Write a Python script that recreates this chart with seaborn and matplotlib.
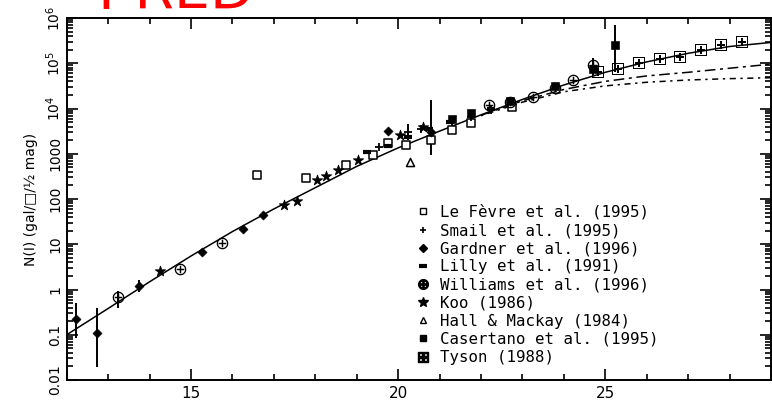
import numpy as np
import pandas as pd
import matplotlib
matplotlib.use("Agg")
import matplotlib.pyplot as plt
import seaborn as sns
from matplotlib.ticker import FixedLocator, FixedFormatter, MultipleLocator, LogLocator, NullFormatter
from matplotlib.lines import Line2D

# ---------------- data ----------------
model_mag = [12, 13, 14, 15, 16, 17, 18, 19, 20, 21, 22, 23, 24, 25, 26, 27, 28, 29]
model_solid_log = [-1.0, -0.42, 0.17, 0.74, 1.28, 1.78, 2.25, 2.72, 3.13, 3.5, 3.86, 4.2, 4.52, 4.8, 5.03, 5.22, 5.37, 5.46]
model_dash_mag = [22, 23, 24, 25, 26, 27, 28, 29]
model_dash_log = [3.85, 4.17, 4.42, 4.6, 4.72, 4.8, 4.89, 4.98]
model_dot_log = [3.84, 4.14, 4.37, 4.5, 4.58, 4.63, 4.66, 4.68]

lefevre_mag = [16.59, 17.77, 18.75, 19.4, 19.75, 20.2, 20.8, 21.3, 21.77, 22.75]
lefevre_n = [340, 290, 560, 950, 1730, 1600, 2000, 3300, 4800, 11000]
smail_mag = [19.55, 20.23, 20.55, 21.3, 21.77, 22.25]
smail_n = [1400, 3000, 3500, 5000, 6500, 9300]
gardner_mag = [12.22, 12.74, 13.74, 15.26, 16.25, 16.74, 19.75, 20.8]
gardner_n = [0.22, 0.11, 1.19, 6.8, 21.7, 45, 3200, 3000]
lilly_mag = [19.24, 19.75, 20.25, 20.75, 21.25, 22.25]
lilly_n = [1120, 1500, 2400, 3500, 5000, 10000]
williams_mag = [13.25, 14.73, 15.74, 22.2, 22.7, 23.25, 23.78, 24.22, 24.7]
williams_n = [0.67, 2.9, 10.7, 12000, 14000, 18000, 28000, 42000, 91000]
koo_mag = [14.25, 17.24, 17.55, 18.03, 18.27, 18.55, 19.03, 20.04, 20.6]
koo_n = [2.6, 74, 92, 263, 320, 440, 720, 2600, 4000]
hall_mag = [20.28]
hall_n = [660]
casertano_mag = [21.29, 21.77, 22.7, 23.78, 24.7, 25.23]
casertano_n = [6000, 7800, 15000, 31000, 75000, 250000]
tyson_mag = [24.82, 25.31, 25.81, 26.31, 26.8, 27.32, 27.8, 28.31]
tyson_n = [65000, 76000, 100000, 123000, 138000, 193000, 250000, 300000]

err_mag = [12.22, 12.74, 13.25, 13.74, 20.8, 20.23, 24.7, 25.23]
err_val = [0.22, 0.11, 0.67, 1.19, 3000, 3000, 91000, 250000]
err_lo = [0.085, 0.019, 0.39, 0.9, 940, 2000, 54000, 65000]
err_hi = [0.5, 0.39, 0.93, 1.6, 15500, 4500, 130000, 700000]

survey_labels = ["Le Fèvre et al. (1995)", "Smail et al. (1995)", "Gardner et al. (1996)",
                 "Lilly et al. (1991)", "Williams et al. (1996)", "Koo (1986)",
                 "Hall & Mackay (1984)", "Casertano et al. (1995)", "Tyson (1988)"]

y_tick_vals = [0.01, 0.1, 1, 10, 100, 1000, 1e4, 1e5, 1e6]
y_tick_labels = ["0.01", "0.1", "1", "10", "100", "1000", "$10^4$", "$10^5$", "$10^6$"]
x_tick_vals = [15, 20, 25]

# ---------------- style ----------------
sns.set_theme(style="ticks")
plt.rcParams["font.family"] = ["DejaVu Sans"]
plt.rcParams["axes.edgecolor"] = "black"
plt.rcParams["xtick.color"] = "black"
plt.rcParams["ytick.color"] = "black"
plt.rcParams["text.color"] = "black"
plt.rcParams["axes.labelcolor"] = "black"

fig = plt.figure(figsize=(7.72, 4.03), dpi=100)
ax = fig.add_axes([66.7 / 772, 1 - 380 / 403, (771 - 66.7) / 772, 362 / 403])

# model curves
lines_df = pd.concat([
    pd.DataFrame({"mag": model_mag, "N": np.power(10.0, model_solid_log), "model": "solid"}),
    pd.DataFrame({"mag": model_dash_mag, "N": np.power(10.0, model_dash_log), "model": "dash"}),
    pd.DataFrame({"mag": model_dash_mag, "N": np.power(10.0, model_dot_log), "model": "dot"}),
])
sns.lineplot(data=lines_df, x="mag", y="N", style="model",
             dashes={"solid": "", "dash": (7, 3, 2, 3), "dot": (1.5, 3, 4, 3)},
             color="black", linewidth=1.1, legend=False, ax=ax, sort=False, estimator=None)

# error bars
err_val_a = np.array(err_val)
ax.errorbar(err_mag, err_val, yerr=[err_val_a - np.array(err_lo), np.array(err_hi) - err_val_a],
            fmt="none", ecolor="black", elinewidth=1.4, capsize=0)

marker_specs = [
    (lefevre_mag, lefevre_n, dict(marker="s", s=34, facecolor="white", edgecolor="black", linewidth=1.1)),
    (smail_mag, smail_n, dict(marker="+", s=40, color="black", linewidth=1.3)),
    (gardner_mag, gardner_n, dict(marker="D", s=22, color="black", edgecolor="black")),
    (lilly_mag, lilly_n, dict(marker="_", s=40, color="black", linewidth=3)),
    (williams_mag, williams_n, dict(marker="$\\oplus$", s=70, color="black", linewidth=0)),
    (koo_mag, koo_n, dict(marker="*", s=60, color="black", edgecolor="black")),
    (hall_mag, hall_n, dict(marker="^", s=34, facecolor="white", edgecolor="black", linewidth=1.1)),
    (casertano_mag, casertano_n, dict(marker="s", s=30, color="black", edgecolor="black")),
    (tyson_mag, tyson_n, dict(marker="$\\boxplus$", s=80, color="black", linewidth=0)),
]
for xs, ys, kw in marker_specs:
    sns.scatterplot(x=xs, y=ys, ax=ax, legend=False, zorder=3, **kw)

ax.set_yscale("log")
ax.set_xlim(12, 29)
ax.set_ylim(0.01, 1e6)

ax.xaxis.set_major_locator(FixedLocator(x_tick_vals))
ax.xaxis.set_minor_locator(MultipleLocator(1))
ax.yaxis.set_major_locator(FixedLocator(y_tick_vals))
ax.yaxis.set_major_formatter(FixedFormatter(y_tick_labels))
ax.yaxis.set_minor_locator(LogLocator(base=10, subs=np.arange(2, 10), numticks=20))
ax.yaxis.set_minor_formatter(NullFormatter())

ax.tick_params(which="both", direction="in", top=True, right=True, width=1.2, colors="black")
ax.tick_params(which="major", length=8)
ax.tick_params(which="minor", length=4.5)
ax.tick_params(axis="x", labelsize=11, pad=4)
ax.tick_params(axis="y", labelsize=10, labelrotation=90, pad=3)
for lab in ax.get_yticklabels():
    lab.set_va("center")
for sp in ax.spines.values():
    sp.set_linewidth(1.4)
    sp.set_color("black")
    sp.set_visible(True)

ax.set_xlabel("")
ax.set_ylabel("N(I) (gal/□/½ mag)", fontsize=10, labelpad=4)

# legend
legend_handles = [
    Line2D([], [], linestyle="none", marker="s", markersize=5, markerfacecolor="white", markeredgecolor="black"),
    Line2D([], [], linestyle="none", marker="+", markersize=5, color="black", markeredgewidth=1.2),
    Line2D([], [], linestyle="none", marker="D", markersize=4, color="black"),
    Line2D([], [], linestyle="none", marker="_", markersize=6, color="black", markeredgewidth=3),
    Line2D([], [], linestyle="none", marker="$\\oplus$", markersize=7, color="black"),
    Line2D([], [], linestyle="none", marker="*", markersize=7, color="black"),
    Line2D([], [], linestyle="none", marker="^", markersize=5, markerfacecolor="white", markeredgecolor="black"),
    Line2D([], [], linestyle="none", marker="s", markersize=4.5, color="black"),
    Line2D([], [], linestyle="none", marker="$\\boxplus$", markersize=7, color="black"),
]
ax.legend(legend_handles, survey_labels, loc="upper left", bbox_to_anchor=(0.497, 0.485),
          frameon=False, prop={"family": "DejaVu Sans Mono", "size": 11.3},
          handlelength=0.8, handletextpad=0.7,
          labelspacing=0.2, borderaxespad=0, borderpad=0)

fig.text(97 / 772, 1 - 9 / 403, "I-RED", color="red", fontsize=41, ha="left", va="baseline")

fig.savefig("out.png", dpi=100)
